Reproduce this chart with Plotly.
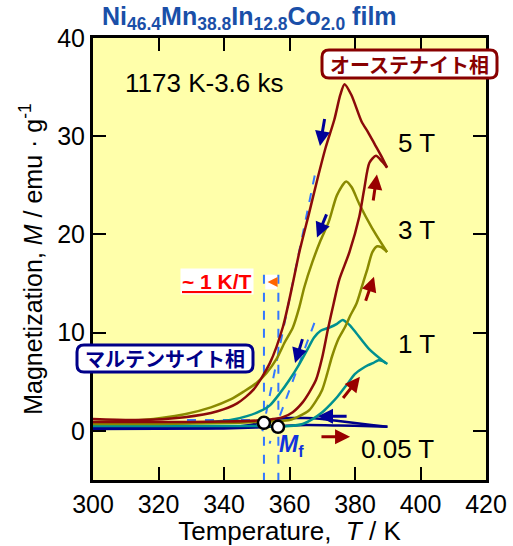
import plotly.graph_objects as go

# ---------------- data ----------------
T5_cool = [300, 313, 328, 338, 344, 349, 354, 358, 361, 363, 366, 368.5, 371, 373.7, 375.5, 376.8, 378.9, 382, 384, 386, 388, 389.8]
M5_cool = [1.2, 1.1, 1.4, 2.0, 2.8, 4.2, 6.9, 10.6, 15.0, 18.2, 22.2, 25.6, 28.8, 31.7, 34.2, 35.3, 34.2, 31.5, 30.4, 29.2, 28.0, 26.8]
T5_heat = [300, 320, 340, 350, 355, 358, 361, 364, 366, 368.1, 370, 371.7, 373.5, 375.2, 378.3, 381.3, 382.8, 384.4, 386.4, 388.3, 389.8]
M5_heat = [0.9, 0.9, 0.95, 1.05, 1.2, 1.4, 1.9, 2.9, 3.9, 5.2, 7.5, 10.3, 13.0, 15.4, 18.2, 21.8, 24.6, 27.3, 28.0, 27.4, 26.8]

T3_cool = [300, 315, 328, 336, 342, 346, 350, 353, 356, 358.5, 361, 363, 364.5, 367, 369.5, 372, 374.5, 377.3, 379, 381.3, 385.3, 389.8]
M3_cool = [0.9, 1.1, 1.7, 2.4, 3.2, 4.0, 4.9, 5.9, 7.3, 9.0, 10.5, 12.6, 14.6, 17.2, 19.4, 21.3, 24.0, 25.4, 24.8, 23.1, 20.6, 18.2]
T3_heat = [300, 320, 340, 350, 356, 360, 363, 366, 368, 370, 371.5, 373, 375, 377, 378.5, 380.5, 382.2, 383.8, 385.3, 386.8, 388, 389.8]
M3_heat = [0.7, 0.7, 0.8, 0.9, 1.0, 1.1, 1.5, 2.1, 3.0, 4.2, 5.8, 7.6, 9.4, 10.6, 11.7, 13.0, 14.8, 16.5, 18.2, 18.8, 18.7, 18.2]

T1_cool = [300, 320, 335, 342, 347, 351, 354, 357, 360, 363, 365.5, 367.5, 369.5, 372, 374.5, 376.2, 378.3, 380.3, 384.4, 389.4]
M1_cool = [0.6, 0.7, 0.9, 1.1, 1.5, 2.0, 2.6, 3.8, 5.2, 6.8, 8.3, 9.5, 10.2, 10.5, 10.9, 11.3, 10.8, 10.0, 8.3, 6.9]
T1_heat = [300, 330, 350, 360, 364, 367, 370, 372.5, 374.7, 377.5, 380, 382, 384, 385.5, 387.2, 388.5, 389.9]
M1_heat = [0.5, 0.5, 0.5, 0.5, 0.7, 1.2, 1.9, 2.7, 3.5, 4.7, 5.8, 6.3, 6.7, 6.9, 7.2, 7.1, 6.8]

T005_cool = [300, 335, 343, 348, 352, 356, 360, 365, 370, 375, 380, 385, 389.9]
M005_cool = [0.3, 0.3, 0.4, 0.6, 0.9, 1.2, 1.3, 1.3, 1.2, 1.0, 0.8, 0.6, 0.42]
T005_heat = [300, 340, 350, 358, 365, 375, 385, 389.9]
M005_heat = [0.2, 0.25, 0.35, 0.5, 0.6, 0.55, 0.47, 0.42]

Mf_T = [352.2, 356.5]
Mf_M = [0.82, 0.41]

field_labels = ["5 T", "3 T", "1 T", "0.05 T"]
field_label_T = [398.9, 398.9, 398.9, 393.0]
field_label_M = [29.3, 20.5, 8.8, -1.8]

x_ticks = [300, 320, 340, 360, 380, 400, 420]
y_ticks = [0, 10, 20, 30, 40]

# ---------------- styles ----------------
C5 = "#8B0A0A"
C3 = "#8A8A00"
C1 = "#009090"
C005 = "#000088"
NAVY = "#000099"
DRED = "#990000"
DASH = "#3377FF"
FONT = "Arial, Liberation Sans, sans-serif"
JP = "Noto Sans CJK JP, sans-serif"

# plot-area geometry (pixels) used only to place paper-referenced decorations
L, R, TOP, BOT = 93, 486, 38, 480
W, H = 513, 546

fig = go.Figure()


def add(T, M, color):
    fig.add_trace(go.Scatter(x=T, y=M, mode="lines",
                             line=dict(color=color, width=2.5, shape="spline", smoothing=0.7),
                             showlegend=False, hoverinfo="skip"))


def dline(x0, y0, x1, y1):
    fig.add_shape(type="line", xref="x", yref="y", x0=x0, y0=y0, x1=x1, y1=y1,
                  line=dict(color=DASH, width=2, dash="dash"), layer="below")


add(T005_heat, M005_heat, C005)
add(T005_cool, M005_cool, C005)
add(T1_heat, M1_heat, C1)
add(T1_cool, M1_cool, C1)
add(T3_heat, M3_heat, C3)
add(T3_cool, M3_cool, C3)
add(T5_heat, M5_heat, C5)
add(T5_cool, M5_cool, C5)

dline(367.7, 26.0, 351.2, -0.9)
dline(367.6, 11.0, 353.9, -1.3)
dline(328.7, 1.1, 352.2, 1.1)
dline(352.2, 15.9, 352.2, -5)
dline(356.6, 15.9, 356.6, -5)

fig.add_trace(go.Scatter(x=Mf_T, y=Mf_M, mode="markers",
                         marker=dict(size=12, color="white", line=dict(color="black", width=2.5)),
                         showlegend=False, hoverinfo="skip"))

ann = []


def arrow(t0, m0, t1, m1, color, w=3, size=1.0):
    ann.append(dict(x=t1, y=m1, ax=t0, ay=m0, xref="x", yref="y", axref="x", ayref="y",
                    text="", showarrow=True, arrowhead=2, arrowsize=size, arrowwidth=w,
                    arrowcolor=color, standoff=0, startstandoff=0))


arrow(370.8, 31.9, 369.3, 29.0, NAVY)
arrow(371.5, 22.2, 368.4, 19.7, NAVY)
arrow(364.1, 9.5, 361.7, 6.9, NAVY)
arrow(377.9, 1.5, 368.7, 1.5, NAVY)
arrow(385.5, 23.3, 386.7, 26.1, DRED)
arrow(383.1, 13.1, 385.8, 15.7, DRED)
arrow(376.0, 3.2, 381.5, 5.5, DRED)
arrow(369.3, -0.6, 378.5, -0.6, DRED)

fig.add_shape(type="rect", xref="x", yref="y", x0=352.6, x1=356.2, y0=14.4, y1=15.9,
              fillcolor="white", line=dict(width=0), layer="above")
arrow(355.9, 15.15, 353.3, 15.15, "#FF6600", w=2, size=1.0)

for lab, t, m in zip(field_labels, field_label_T, field_label_M):
    ann.append(dict(x=t, y=m, xref="x", yref="y", text=lab, showarrow=False,
                    xanchor="center", yanchor="middle",
                    font=dict(family=FONT, size=26, color="black")))

ann.append(dict(x=333.9, y=35.4, xref="x", yref="y", text="1173 K-3.6 ks", showarrow=False,
                xanchor="center", yanchor="middle",
                font=dict(family=FONT, size=26, color="black")))
ann.append(dict(x=337.8, y=15.2, xref="x", yref="y", text="<b><u>~ 1 K/T</u></b>", showarrow=False,
                xanchor="center", yanchor="middle", bgcolor="white", borderpad=1,
                font=dict(family=FONT, size=21, color="#FF0000")))
ann.append(dict(x=360.5, y=-1.5, xref="x", yref="y", text="<b><i>M</i><sub>f</sub></b>", showarrow=False,
                xanchor="center", yanchor="middle",
                font=dict(family=FONT, size=23, color="#1133DD")))

# title
ann.append(dict(x=(249 - L) / (R - L), y=(BOT - 18) / (BOT - TOP), xref="paper", yref="paper",
                showarrow=False, xanchor="center", yanchor="middle",
                text="<b>Ni<sub>46.4</sub>Mn<sub>38.8</sub>In<sub>12.8</sub>Co<sub>2.0</sub> film</b>",
                font=dict(family=FONT, size=25, color="#1A4FA8")))


def px2paper(px, py):
    return (px - L) / (R - L), (BOT - py) / (BOT - TOP)


def rr_path(x0p, y0p, x1p, y1p, r):
    def P(x, y):
        a, b = px2paper(x, y)
        return f"{a:.5f},{b:.5f}"
    return (f"M{P(x0p + r, y0p)} L{P(x1p - r, y0p)} Q{P(x1p, y0p)} {P(x1p, y0p + r)} "
            f"L{P(x1p, y1p - r)} Q{P(x1p, y1p)} {P(x1p - r, y1p)} L{P(x0p + r, y1p)} "
            f"Q{P(x0p, y1p)} {P(x0p, y1p - r)} L{P(x0p, y0p + r)} Q{P(x0p, y0p)} {P(x0p + r, y0p)} Z")


def phase_box(x0p, y0p, x1p, y1p, color, text):
    fig.add_shape(type="path", xref="paper", yref="paper", path=rr_path(x0p, y0p, x1p, y1p, 7),
                  fillcolor="white", line=dict(color=color, width=3), layer="above")
    cx, cy = px2paper((x0p + x1p) / 2, (y0p + y1p) / 2)
    ann.append(dict(x=cx, y=cy, xref="paper", yref="paper", text=f"<b>{text}</b>", showarrow=False,
                    xanchor="center", yanchor="middle",
                    font=dict(family=JP, size=20, color=color)))


phase_box(322, 50, 497, 78, "#880000", "オーステナイト相")
phase_box(77, 345, 253, 372, "#000088", "マルテンサイト相")

fig.update_layout(
    width=W, height=H,
    margin=dict(l=L, r=W - R, t=TOP, b=H - BOT),
    paper_bgcolor="white", plot_bgcolor="#FFFFAA",
    annotations=ann,
    font=dict(family=FONT, size=26, color="black"),
)
fig.update_xaxes(range=[300, 420], tickvals=x_ticks, ticks="inside", ticklen=13, tickwidth=2,
                 tickcolor="black", showline=True, linewidth=3, linecolor="black", mirror="ticks",
                 showgrid=False, zeroline=False, automargin=False,
                 tickfont=dict(family=FONT, size=25, color="black"),
                 title=dict(text="Temperature,  <i>T</i> / K", font=dict(family=FONT, size=26), standoff=6))
fig.update_yaxes(range=[-5, 40], tickvals=y_ticks, ticks="inside", ticklen=13, tickwidth=2,
                 tickcolor="black", showline=True, linewidth=3, linecolor="black", mirror="ticks",
                 showgrid=False, zeroline=False, automargin=False,
                 tickfont=dict(family=FONT, size=25, color="black"),
                 title=dict(text="Magnetization, <i>M</i> / emu · g<sup>-1</sup>",
                            font=dict(family=FONT, size=25), standoff=8))

fig.write_html("out.html", config={"displayModeBar": False},
               post_script="document.body.style.margin='0';document.body.style.padding='0';"
                           "document.documentElement.style.overflow='hidden';")
